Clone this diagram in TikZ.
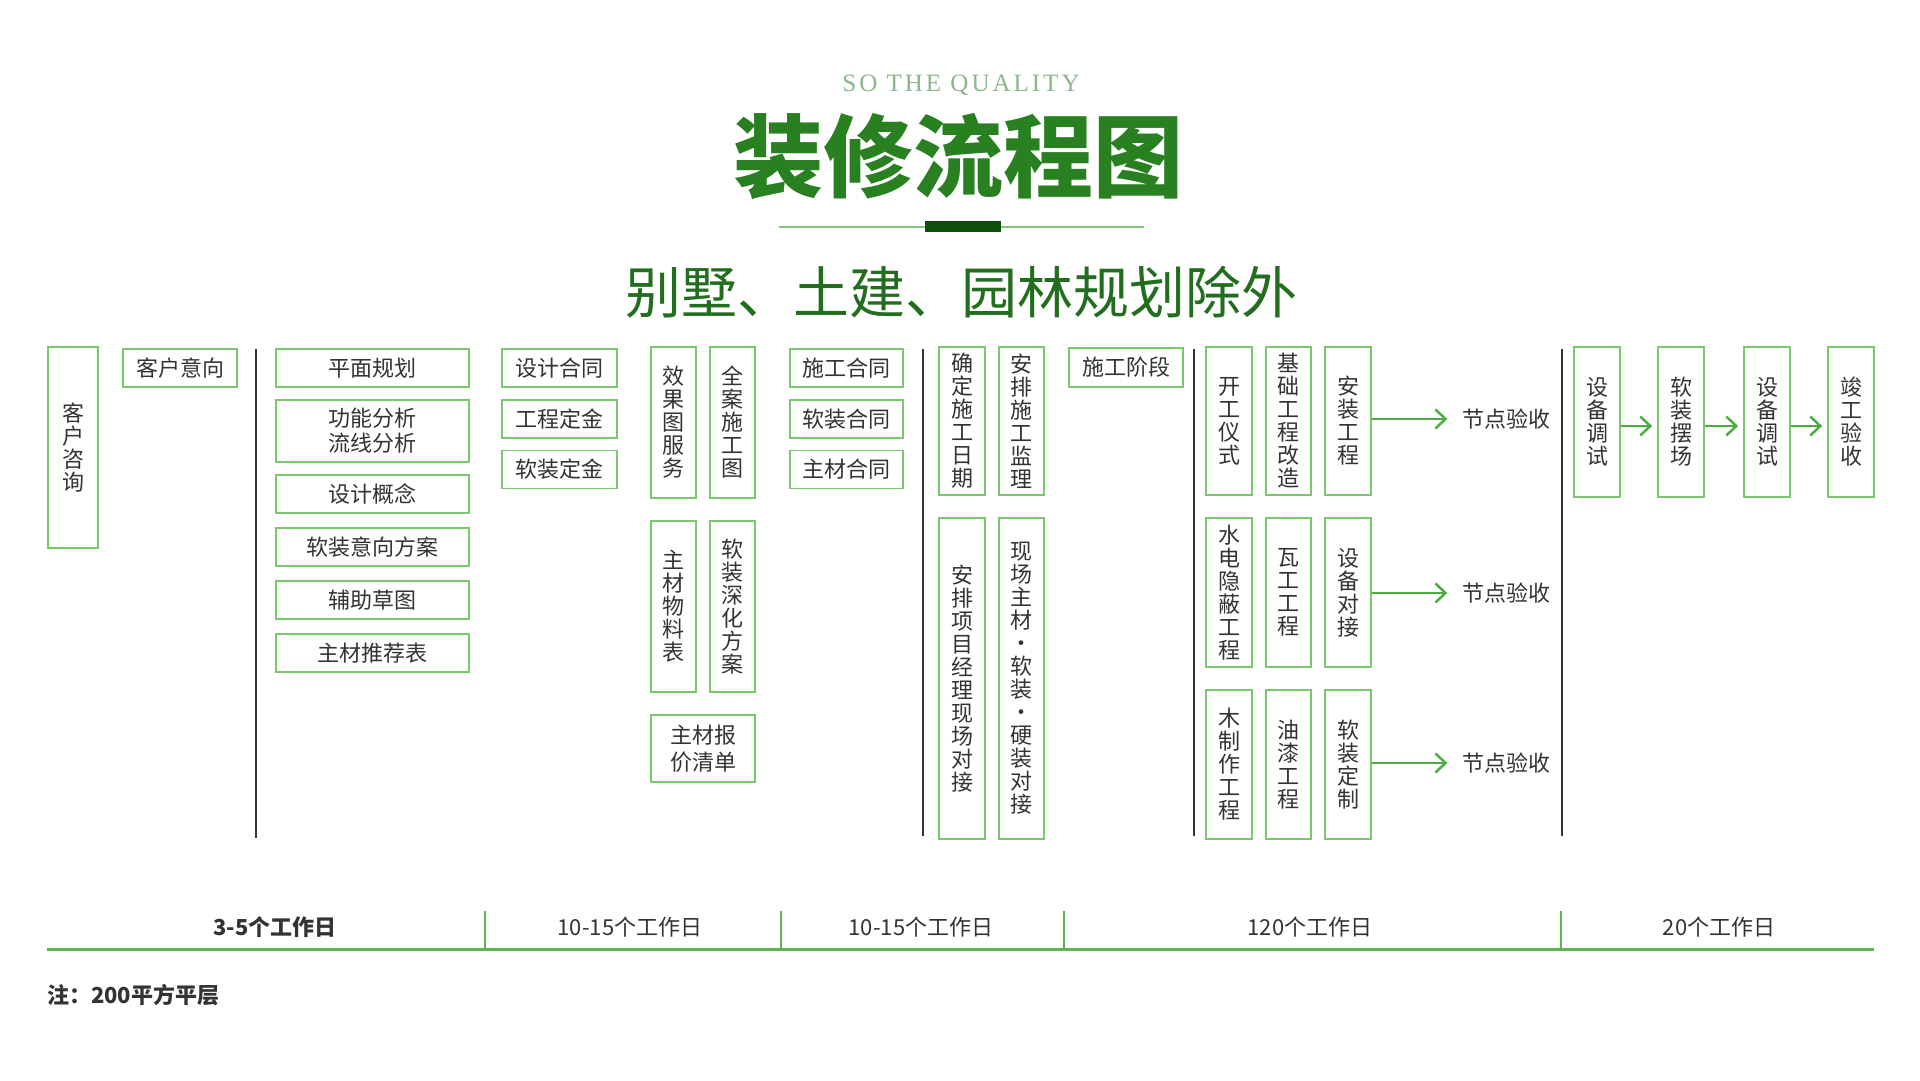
\documentclass[tikz,border=0pt]{standalone}
\usepackage{fontspec}
\setmainfont{Noto Sans CJK SC}
\newfontfamily\enfont[LetterSpace=12]{Liberation Serif}
\usetikzlibrary{arrows.meta}
\definecolor{boxgreen}{RGB}{125,198,112}
\definecolor{arrgreen}{RGB}{76,172,64}
\definecolor{txt}{RGB}{51,51,51}
\definecolor{titlegreen}{RGB}{40,128,32}
\definecolor{subgreen}{RGB}{34,110,30}
\definecolor{engreen}{RGB}{140,182,140}
\definecolor{darkgreen}{RGB}{12,78,12}
\definecolor{linegreen}{RGB}{92,180,80}
\definecolor{lightline}{RGB}{130,196,120}
\definecolor{sepgray}{RGB}{51,51,51}
\tikzset{
  box/.style={draw=boxgreen, line width=1.8pt, text=txt, inner sep=0pt, align=center,
    font=\fontsize{22}{23}\selectfont},
  hbox/.style={box, minimum height=38pt},
  vbox/.style={box, minimum width=46pt},
  sep/.style={draw=sepgray, line width=2.5pt},
  arr/.style={draw=arrgreen, line width=2.5pt, -{Straight Barb[length=10pt,width=19pt]}},
  nd/.style={text=txt, inner ysep=0pt, inner xsep=15pt, font=\fontsize{22}{23}\selectfont},
  day/.style={text=txt, inner sep=0pt, font=\fontsize{22}{23}\selectfont},
  tick/.style={draw=linegreen, line width=2pt}
}
\begin{document}
\begin{tikzpicture}[x=1pt,y=-1pt]
\useasboundingbox[fill=white] (0,0) rectangle (1920,1080);

% header
\node[text=engreen, inner sep=0pt, font=\enfont\fontsize{25}{25}\selectfont] (en) at (961,85) {SO THE QUALITY};
\node[text=titlegreen, inner sep=0pt, font=\fontsize{90}{90}\selectfont\bfseries] (title) at (958,157) {装修流程图};
\draw[draw=lightline, line width=1.5pt] (779,227) -- (1144,227);
\fill[darkgreen] (925,221) rectangle (1001,232);
\node[text=subgreen, inner sep=0pt, font=\fontsize{56}{56}\selectfont] (sub) at (961,292) {别墅、土建、园林规划除外};

% column 1
\node[box, minimum width=50pt, minimum height=201pt] (kfzx) at (73,447.5) {客\\户\\咨\\询};
\node[hbox, minimum width=114pt] (kfyx) at (180,368) {客户意向};

\draw[sep] (256,349) -- (256,838);

% column 2
\node[hbox, minimum width=193pt] (pmgh) at (372.5,368) {平面规划};
\node[box, minimum width=193pt, minimum height=62pt, font=\fontsize{22}{25}\selectfont] (gnfx) at (372.5,431) {功能分析\\流线分析};
\node[hbox, minimum width=193pt] (sjgn) at (372.5,494) {设计概念};
\node[hbox, minimum width=193pt] (rzyx) at (372.5,547) {软装意向方案};
\node[hbox, minimum width=193pt] (fzct) at (372.5,600) {辅助草图};
\node[hbox, minimum width=193pt] (zctj) at (372.5,653) {主材推荐表};

% column 3
\node[hbox, minimum width=115pt] (sjht) at (559.5,368) {设计合同};
\node[hbox, minimum width=115pt] (gcdj) at (559.5,419) {工程定金};
\node[hbox, minimum width=115pt] (rzdj) at (559.5,469.5) {软装定金};

\node[vbox, minimum width=45pt, minimum height=151pt] (xgt) at (673.5,422.5) {效\\果\\图\\服\\务};
\node[vbox, minimum width=45pt, minimum height=151pt] (qasg) at (732.5,422.5) {全\\案\\施\\工\\图};
\node[vbox, minimum width=45pt, minimum height=171pt] (zcwl) at (673.5,606.5) {主\\材\\物\\料\\表};
\node[vbox, minimum width=45pt, minimum height=171pt] (rzsh) at (732.5,606.5) {软\\装\\深\\化\\方\\案};
\node[box, minimum width=104pt, minimum height=67pt, font=\fontsize{22}{27}\selectfont] (zcbj) at (703,748.5) {主材报\\价清单};

\node[hbox, minimum width=113pt] (sght) at (846.5,368) {施工合同};
\node[hbox, minimum width=113pt] (rzht) at (846.5,419) {软装合同};
\node[hbox, minimum width=113pt] (zcht) at (846.5,469.5) {主材合同};

\draw[sep] (923,349) -- (923,836);

% column 4
\node[vbox, minimum height=148pt] (qdsg) at (962,421) {确\\定\\施\\工\\日\\期};
\node[vbox, minimum width=45pt, minimum height=148pt] (apjl) at (1021.5,421) {安\\排\\施\\工\\监\\理};
\node[vbox, minimum height=321pt] (apxm) at (962,678.5) {安\\排\\项\\目\\经\\理\\现\\场\\对\\接};
\node[vbox, minimum width=45pt, minimum height=321pt] (xczc) at (1021.5,678.5) {现\\场\\主\\材\\·\\软\\装\\·\\硬\\装\\对\\接};
\node[hbox, minimum width=114pt, minimum height=39pt] (sgjd) at (1126,367.5) {施工阶段};

\draw[sep] (1194,349) -- (1194,836);

% construction grid
\node[vbox, minimum height=148pt] (kgys) at (1229,421) {开\\工\\仪\\式};
\node[vbox, minimum width=45pt, minimum height=148pt] (jcgc) at (1288.5,421) {基\\础\\工\\程\\改\\造};
\node[vbox, minimum height=148pt] (azgc) at (1348,421) {安\\装\\工\\程};
\node[vbox, minimum height=149pt] (sdyb) at (1229,592.5) {水\\电\\隐\\蔽\\工\\程};
\node[vbox, minimum width=45pt, minimum height=149pt] (wggc) at (1288.5,592.5) {瓦\\工\\工\\程};
\node[vbox, minimum height=149pt] (sbdj) at (1348,592.5) {设\\备\\对\\接};
\node[vbox, minimum height=149pt] (mzzg) at (1229,764.5) {木\\制\\作\\工\\程};
\node[vbox, minimum width=45pt, minimum height=149pt] (yqgc) at (1288.5,764.5) {油\\漆\\工\\程};
\node[vbox, minimum height=149pt] (rzdz) at (1348,764.5) {软\\装\\定\\制};

\node[nd] (jd1) at (1506.5,419) {节点验收};
\node[nd] (jd2) at (1506.5,593) {节点验收};
\node[nd] (jd3) at (1506.5,763) {节点验收};
\draw[arr] (azgc.east |- jd1) -- (jd1);
\draw[arr] (sbdj.east |- jd2) -- (jd2);
\draw[arr] (rzdz.east |- jd3) -- (jd3);

\draw[sep] (1562,349) -- (1562,836);

% final column
\node[vbox, minimum height=150pt] (sbts1) at (1597,422) {设\\备\\调\\试};
\node[vbox, minimum height=150pt] (rzbc) at (1681,422) {软\\装\\摆\\场};
\node[vbox, minimum height=150pt] (sbts2) at (1767,422) {设\\备\\调\\试};
\node[vbox, minimum height=150pt] (jgys) at (1851,422) {竣\\工\\验\\收};
\draw[arr, shorten >=5pt] ([yshift=-4pt]sbts1.east) -- ([yshift=-4pt]rzbc.west);
\draw[arr, shorten >=5pt] ([yshift=-4pt]rzbc.east) -- ([yshift=-4pt]sbts2.west);
\draw[arr, shorten >=5pt] ([yshift=-4pt]sbts2.east) -- ([yshift=-4pt]jgys.west);

% timeline
\draw[draw=linegreen, line width=3pt] (47,949) -- (1874,949);
\draw[tick] (485,911) -- (485,949);
\draw[tick] (781,911) -- (781,949);
\draw[tick] (1064,911) -- (1064,949);
\draw[tick] (1561,911) -- (1561,949);
\node[day, font=\fontsize{22}{23}\selectfont\bfseries] (d1) at (275,927) {3-5个工作日};
\node[day] (d2) at (630,927) {10-15个工作日};
\node[day] (d3) at (921,927) {10-15个工作日};
\node[day] (d4) at (1310,927) {120个工作日};
\node[day] (d5) at (1719,927) {20个工作日};

\node[day, anchor=west, font=\fontsize{22}{23}\selectfont\bfseries] (note) at (47,995) {注：200平方平层};
\end{tikzpicture}
\end{document}
